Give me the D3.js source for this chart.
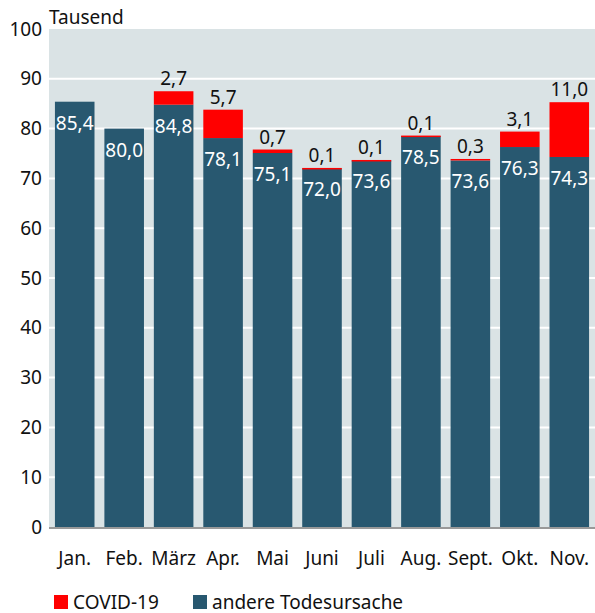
<!DOCTYPE html>
<html>
<head>
<meta charset="utf-8">
<script src="https://cdn.jsdelivr.net/npm/d3@7"></script>
<style>
  body { margin: 0; background: #fff; }
  svg text { font-family: "Noto Sans", sans-serif; }
</style>
</head>
<body>
<div id="chart"></div>
<script>
/* DATA */
const months = ["Jan.", "Feb.", "März", "Apr.", "Mai", "Juni", "Juli", "Aug.", "Sept.", "Okt.", "Nov."];
const andere = [85.4, 80.0, 84.8, 78.1, 75.1, 72.0, 73.6, 78.5, 73.6, 76.3, 74.3];
const covid = [null, null, 2.7, 5.7, 0.7, 0.1, 0.1, 0.1, 0.3, 3.1, 11.0];
const yTicks = [0, 10, 20, 30, 40, 50, 60, 70, 80, 90, 100];

/* CONSTANTS */
const width = 595, height = 613;
const plotLeft = 49, plotRight = 595, plotTop = 29, plotBottom = 527;
const blue = "#285870", red = "#ff0000";
const fmt = v => v.toFixed(1).replace(".", ",");

const data = months.map((m, i) => ({ month: m, andere: andere[i], covid: covid[i] || 0, hasCovid: covid[i] != null }));

/* SCALES */
const xScale = d3.scaleBand()
  .domain(months)
  .range([plotLeft, plotRight])
  .paddingInner(0.2)
  .paddingOuter(0.12);

const yScale = d3.scaleLinear()
  .domain([0, 100])
  .range([plotBottom, plotTop]);

const svg = d3.select("#chart")
  .append("svg")
  .attr("width", width)
  .attr("height", height)
  .style("display", "block");

// cut-off title line at the very top (only its foot shows)
svg.append("text")
  .attr("x", 8)
  .attr("y", -2)
  .attr("fill", "#bbb")
  .attr("font-size", "20px")
  .text("Sterbefälle 2020 nach Monaten und Todesursache");

// plot background
svg.append("rect")
  .attr("x", plotLeft)
  .attr("y", plotTop)
  .attr("width", plotRight - plotLeft)
  .attr("height", plotBottom - plotTop)
  .attr("fill", "#dae3e5");

// grid
svg.selectAll("line.grid")
  .data(yTicks.filter(d => d > 0 && d < 100))
  .join("line")
  .attr("class", "grid")
  .attr("x1", plotLeft)
  .attr("x2", plotRight)
  .attr("y1", d => yScale(d))
  .attr("y2", d => yScale(d))
  .attr("stroke", "#fff")
  .attr("stroke-width", 2);

// y axis labels
const yAxis = d3.axisLeft(yScale).tickValues(yTicks).tickSize(0).tickPadding(7);
svg.append("g")
  .attr("transform", `translate(${plotLeft},0)`)
  .call(yAxis)
  .call(g => g.select(".domain").remove())
  .call(g => g.selectAll("text")
    .attr("font-family", "Noto Sans, sans-serif")
    .attr("font-size", "19px")
    .attr("fill", "#111"));

svg.append("text")
  .attr("x", plotLeft)
  .attr("y", 24)
  .attr("font-size", "19px")
  .attr("fill", "#111")
  .text("Tausend");

// bars
svg.selectAll("rect.andere")
  .data(data)
  .join("rect")
  .attr("class", "andere")
  .attr("x", d => xScale(d.month))
  .attr("width", xScale.bandwidth())
  .attr("y", d => yScale(d.andere))
  .attr("height", d => yScale(0) - yScale(d.andere))
  .attr("fill", blue);

svg.selectAll("rect.covid")
  .data(data.filter(d => d.hasCovid))
  .join("rect")
  .attr("class", "covid")
  .attr("x", d => xScale(d.month))
  .attr("width", xScale.bandwidth())
  .attr("y", d => yScale(d.andere + d.covid))
  .attr("height", d => Math.max(1.5, yScale(d.andere) - yScale(d.andere + d.covid)))
  .attr("fill", red);

// labels
svg.selectAll("text.andere")
  .data(data)
  .join("text")
  .attr("class", "andere")
  .attr("x", d => xScale(d.month) + xScale.bandwidth() / 2)
  .attr("y", d => yScale(d.andere) + 28)
  .attr("text-anchor", "middle")
  .attr("font-size", "19px")
  .attr("fill", "#fff")
  .text(d => fmt(d.andere));

svg.selectAll("text.covid")
  .data(data.filter(d => d.hasCovid))
  .join("text")
  .attr("class", "covid")
  .attr("x", d => xScale(d.month) + xScale.bandwidth() / 2)
  .attr("y", d => yScale(d.andere + d.covid) - 6)
  .attr("text-anchor", "middle")
  .attr("font-size", "19px")
  .attr("fill", "#111")
  .text(d => fmt(d.covid));

// baseline
svg.append("line")
  .attr("x1", plotLeft)
  .attr("x2", plotRight)
  .attr("y1", plotBottom + 1)
  .attr("y2", plotBottom + 1)
  .attr("stroke", "#999")
  .attr("stroke-width", 2);

// x labels
svg.selectAll("text.month")
  .data(months)
  .join("text")
  .attr("class", "month")
  .attr("x", d => xScale(d) + xScale.bandwidth() / 2)
  .attr("y", 565)
  .attr("text-anchor", "middle")
  .attr("font-size", "19px")
  .attr("fill", "#111")
  .text(d => d);

// legend
const legend = [
  { label: "COVID-19", color: red, x: 54 },
  { label: "andere Todesursache", color: blue, x: 193 }
];
const lg = svg.selectAll("g.legend")
  .data(legend)
  .join("g")
  .attr("class", "legend")
  .attr("transform", d => `translate(${d.x},595)`);
lg.append("rect")
  .attr("width", 14)
  .attr("height", 14)
  .attr("fill", d => d.color);
lg.append("text")
  .attr("x", 19)
  .attr("y", 14)
  .attr("font-size", "19px")
  .attr("fill", "#111")
  .text(d => d.label);
</script>
</body>
</html>
